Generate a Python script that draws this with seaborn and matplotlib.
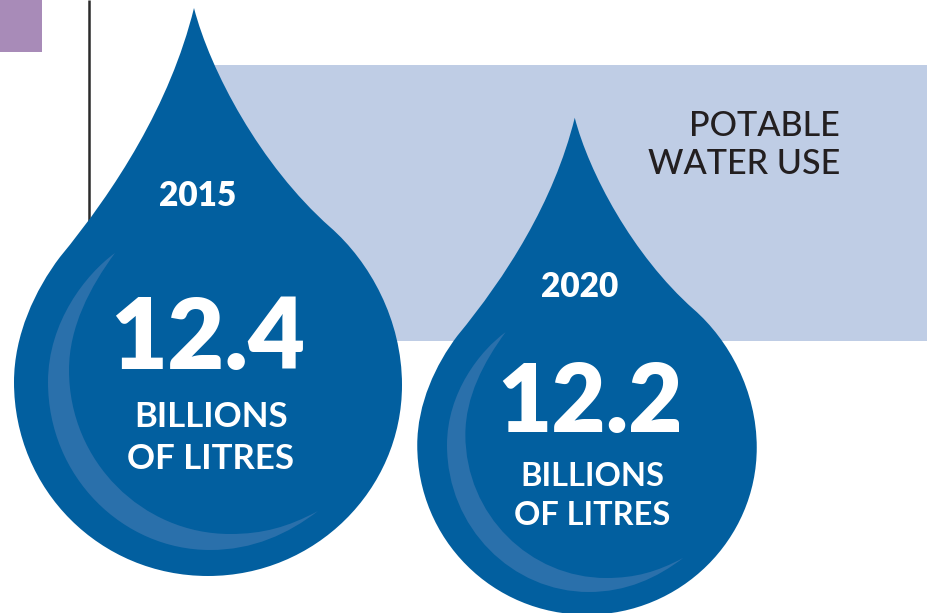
import numpy as np
import pandas as pd
import matplotlib
matplotlib.use("Agg")
import matplotlib.pyplot as plt
from matplotlib.path import Path
from matplotlib.patches import Rectangle
import seaborn as sns

# Potable water use, billions of litres
years = ["2015", "2020"]
values = [12.4, 12.2]
unit_lines = ["BILLIONS", "OF LITRES"]
title_lines = ["POTABLE", "WATER USE"]

DROP_BLUE = "#025F9F"
SHINE_BLUE = "#2A70AB"
PANEL_BLUE = "#BFCDE5"
TAG_PURPLE = "#A88BB8"
INK = "#231F20"

sns.set_theme(style="white")
plt.rcParams["font.family"] = ["Lato", "DejaVu Sans"]

W, H, DPI = 928, 613, 100
fig = plt.figure(figsize=(W / DPI, H / DPI), dpi=DPI, facecolor="white")
ax = fig.add_axes([0, 0, 1, 1])
ax.set_xlim(0, W)
ax.set_ylim(H, 0)
ax.axis("off")

# Drop outline relative to the widest part of the drop, y pointing up
M, C, Z = Path.MOVETO, Path.CURVE4, Path.CLOSEPOLY
drop_pts = np.array([
    (-14, 374),
    (2, 312), (52, 217), (122, 155),
    (162, 120), (194, 62), (194, -3),
    (194, -108), (107, -194), (0, -194),
    (-108, -194), (-194, -108), (-194, 0),
    (-194, 47), (-173, 92), (-148, 125),
    (-93, 192), (-38, 277), (-14, 374),
    (-14, 374),
], dtype=float)
drop_codes = [M] + [C] * 18 + [Z]

# Crescent highlight inside the drop, same reference point
shine_pts = np.array([
    (-93, 129),
    (-122, 108), (-160, 60), (-160, 0),
    (-160, -95), (-85, -168), (2, -168),
    (45, -168), (80, -152), (110, -129),
    (80, -145), (55, -152), (22, -152),
    (-65, -152), (-139, -80), (-139, 12),
    (-139, 55), (-118, 95), (-93, 129),
    (-93, 129),
], dtype=float)
shine_codes = drop_codes

drop_path = Path(drop_pts, drop_codes)
shine_path = Path(shine_pts, shine_codes)


def area_for(pts, scale):
    # Custom markers are normalised so the largest coordinate spans half the marker box
    span_px = 2 * np.abs(pts).max() * scale
    return (span_px * 72 / DPI) ** 2


# Layout of each drop and its labels
layout = pd.DataFrame({
    "year": years,
    "value": values,
    "cx": [208, 587],
    "cy": [382, 445],
    "scale": [1.0, 0.875],
    "year_x": [198, 580],
    "year_y": [206, 297],
    "year_pt": [24, 24],
    "value_x": [208, 590.5],
    "value_y": [369, 432],
    "value_pt": [71, 67.5],
    "unit_x": [211, 592.5],
    "unit_y": [[427, 469], [486, 525]],
    "unit_pt": [25, 23.4],
})

# Backdrop elements
ax.add_patch(Rectangle((0, 0), 42, 52, color=TAG_PURPLE, lw=0, zorder=1))
ax.add_patch(Rectangle((180, 65), W, 276, color=PANEL_BLUE, lw=0, zorder=1))
ax.plot([89.5, 89.5], [0, 230], color="#2B2B2B", lw=1.8, zorder=1, solid_capstyle="butt")

for i, row in layout.iterrows():
    point = pd.DataFrame({"x": [row.cx], "y": [row.cy]})
    sns.scatterplot(data=point, x="x", y="y", ax=ax, marker=drop_path,
                    s=area_for(drop_pts, row.scale), color=DROP_BLUE,
                    edgecolor="none", linewidth=0, zorder=3 + i, clip_on=False,
                    legend=False)
    sns.scatterplot(data=point, x="x", y="y", ax=ax, marker=shine_path,
                    s=area_for(shine_pts, row.scale), color=SHINE_BLUE,
                    edgecolor="none", linewidth=0, zorder=3.5 + i, clip_on=False,
                    legend=False)
    top = 6 + i
    ax.text(row.year_x, row.year_y, row.year, color="white", ha="center", va="baseline",
            fontsize=row.year_pt, fontweight="heavy", zorder=top)
    ax.text(row.value_x, row.value_y, f"{row.value:.1f}", color="white", ha="center",
            va="baseline", fontsize=row.value_pt, fontweight="heavy", zorder=top)
    for line, y in zip(unit_lines, row.unit_y):
        ax.text(row.unit_x, y, line, color="white", ha="center", va="baseline",
                fontsize=row.unit_pt, fontweight="bold", zorder=top)

ax.set_xlim(0, W)
ax.set_ylim(H, 0)
ax.set_xlabel("")
ax.set_ylabel("")

for line, y in zip(title_lines, [135.5, 173.5]):
    ax.text(840, y, line, color=INK, ha="right", va="baseline", fontsize=24.6,
            fontweight="medium", zorder=10)

fig.savefig("out.png", dpi=DPI)
